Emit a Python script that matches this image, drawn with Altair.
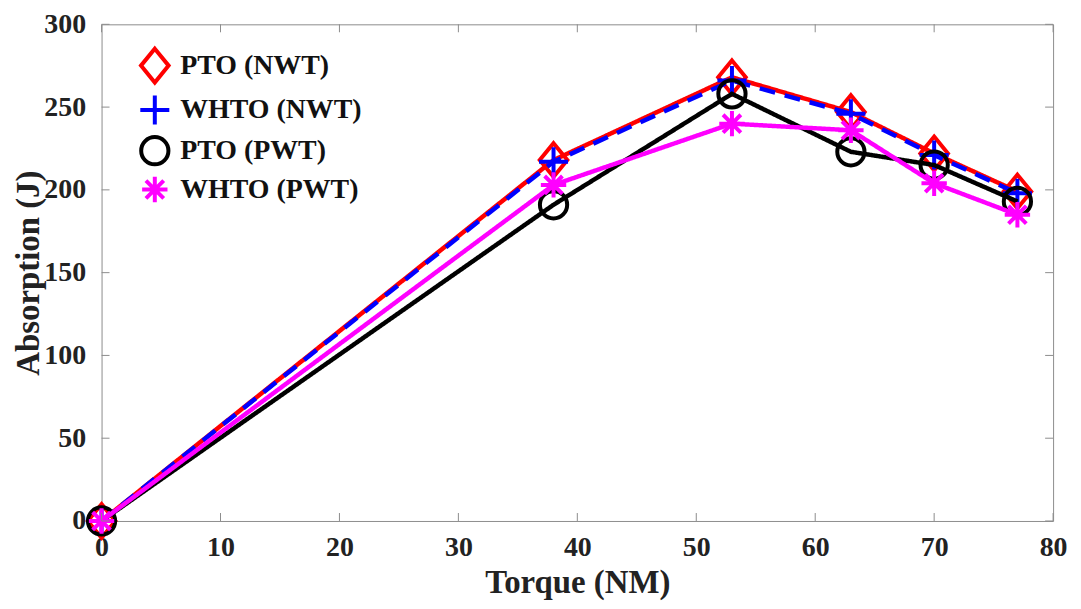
import altair as alt
import pandas as pd

torque = [0, 38, 53, 63, 70, 77]
pto_nwt = [0, 218, 268, 247, 222, 199]
whto_nwt = [0, 217, 266, 246, 221, 198]
pto_pwt = [0, 191, 258, 223, 215, 193]
whto_pwt = [0, 203, 240, 236, 204, 185]

series_names = ["PTO (NWT)", "WHTO (NWT)", "PTO (PWT)", "WHTO (PWT)"]
series_values = [pto_nwt, whto_nwt, pto_pwt, whto_pwt]
series_colors = ["#ff0000", "#0000ff", "#000000", "#ff00ff"]
series_dash = [[1, 0], [16, 10], [1, 0], [1, 0]]
series_shapes = [
    "M0,-1.1L0.9,0L0,1.1L-0.9,0Z",
    "M0,-1L0,1M-1,0L1,0",
    "circle",
    "M0,-1L0,1M-1,0L1,0M-0.7,-0.7L0.7,0.7M-0.7,0.7L0.7,-0.7",
]
series_sizes = [950, 650, 760, 680]

x_ticks = [0, 10, 20, 30, 40, 50, 60, 70, 80]
y_ticks = [0, 50, 100, 150, 200, 250, 300]

rows = []
for name, vals in zip(series_names, series_values):
    for t, v in zip(torque, vals):
        rows.append({"Torque": t, "Absorption": v, "Series": name})
df = pd.DataFrame(rows)

W, H = 956, 499
FONT = "Liberation Serif"
BOX = "#8c8c8c"

x_axis = alt.Axis(values=x_ticks, title="Torque (NM)", grid=False, domain=False,
                  ticks=False, tickSize=0, labelPadding=13, titlePadding=5,
                  labelFlush=False, format="d")
y_axis = alt.Axis(values=y_ticks, title="Absorption (J)", grid=False, domain=False,
                  ticks=False, tickSize=0, labelPadding=16, titlePadding=-2,
                  labelFlush=False, format="d")
x_scale = alt.Scale(domain=[0, 80], nice=False)
y_scale = alt.Scale(domain=[0, 300], nice=False)

x_enc = alt.X("Torque:Q", scale=x_scale, axis=x_axis)
y_enc = alt.Y("Absorption:Q", scale=y_scale, axis=y_axis)

leg = alt.Legend(title=None, orient="none", legendX=36, legendY=24,
                 labelFont=FONT, labelFontSize=28, labelFontWeight="bold",
                 labelColor="#111111", symbolStrokeWidth=4, rowPadding=-4,
                 labelOffset=8, padding=0, labelLimit=400)

color_enc = alt.Color("Series:N", scale=alt.Scale(domain=series_names, range=series_colors),
                      legend=leg, sort=series_names)
shape_enc = alt.Shape("Series:N", scale=alt.Scale(domain=series_names, range=series_shapes),
                      legend=leg, sort=series_names)
size_enc = alt.Size("Series:N", scale=alt.Scale(domain=series_names, range=series_sizes),
                    legend=leg, sort=series_names)

layers = []
for name, col, dash in zip(series_names, series_colors, series_dash):
    base = alt.Chart(df).transform_filter(alt.datum.Series == name)
    line = base.mark_line(strokeWidth=4.5, strokeDash=dash, color=col).encode(x=x_enc, y=y_enc)
    pts = base.mark_point(filled=False, strokeWidth=4, opacity=1).encode(
        x=x_enc, y=y_enc, color=color_enc, shape=shape_enc, size=size_enc
    )
    layers += [line, pts]

xt = pd.DataFrame({"xt": x_ticks})
yt = pd.DataFrame({"yt": y_ticks})
xs = alt.X("xt:Q", scale=x_scale, axis=x_axis)
ys = alt.Y("yt:Q", scale=y_scale, axis=y_axis)
tick_bottom = alt.Chart(xt).mark_rule(color=BOX, strokeWidth=1).encode(
    x=xs, y=alt.value(H), y2=alt.value(H - 8))
tick_top = alt.Chart(xt).mark_rule(color=BOX, strokeWidth=1).encode(
    x=xs, y=alt.value(0), y2=alt.value(8))
tick_left = alt.Chart(yt).mark_rule(color=BOX, strokeWidth=1).encode(
    y=ys, x=alt.value(0), x2=alt.value(8))
tick_right = alt.Chart(yt).mark_rule(color=BOX, strokeWidth=1).encode(
    y=ys, x=alt.value(W), x2=alt.value(W - 8))

chart = alt.layer(*layers, tick_bottom, tick_top, tick_left, tick_right).properties(
    width=W, height=H,
    autosize=alt.AutoSizeParams(type="none"),
    padding={"left": 94, "top": 15, "right": 20, "bottom": 80},
).configure_view(stroke=BOX, strokeWidth=1).configure_axis(
    labelFont=FONT, labelFontSize=28, labelFontWeight="bold", labelColor="#222222",
    titleFont=FONT, titleFontSize=33, titleFontWeight="bold", titleColor="#222222",
)

chart.save("out.html", embed_options={"renderer": "svg", "actions": False})
